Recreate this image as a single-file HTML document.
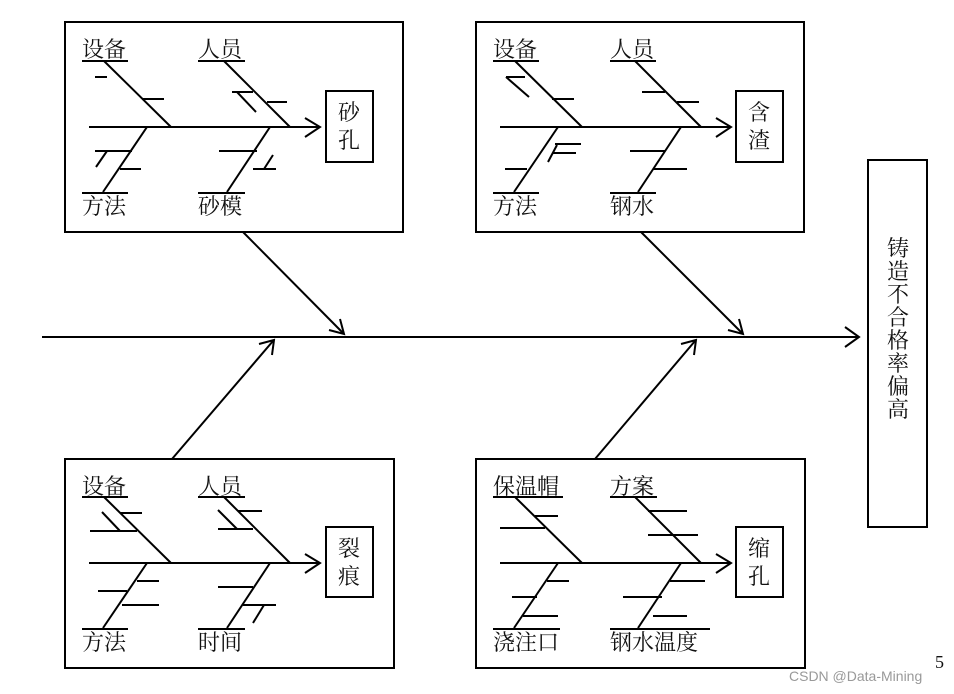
<!DOCTYPE html>
<html><head><meta charset="utf-8"><style>
html,body{margin:0;padding:0;background:#fff;}
svg{display:block;}
text{font-family:"Liberation Serif","Noto Serif CJK SC",serif;font-size:22px;fill:#111;}
</style></head><body>
<svg width="954" height="694" viewBox="0 0 954 694" xmlns="http://www.w3.org/2000/svg">
<defs>
<g id="skel" stroke="#000" stroke-width="2" fill="none">
<line x1="89" y1="127" x2="319" y2="127"/>
<polyline points="305,118 320,127 305,137"/>
<line x1="104" y1="61" x2="171" y2="127"/>
<line x1="224" y1="61" x2="290" y2="127"/>
<line x1="147" y1="127" x2="103" y2="192"/>
<line x1="270" y1="127" x2="227" y2="192"/>
</g>
</defs>
<g stroke="#000" stroke-width="2" fill="none">
<!-- boxes -->
<rect x="65" y="22" width="338" height="210"/>
<rect x="476" y="22" width="328" height="210"/>
<rect x="65" y="459" width="329" height="209"/>
<rect x="476" y="459" width="329" height="209"/>
<rect x="326" y="91" width="47" height="71"/>
<rect x="736" y="91" width="47" height="71"/>
<rect x="326" y="527" width="47" height="70"/>
<rect x="736" y="527" width="47" height="70"/>
<rect x="868" y="160" width="59" height="367"/>
<!-- main spine -->
<line x1="42" y1="337" x2="858" y2="337"/>
<polyline points="845,327 859,337 845,347"/>
<!-- connectors -->
<line x1="243" y1="232" x2="343" y2="333"/>
<polyline points="329,330 344,334 340,319"/>
<line x1="641" y1="232" x2="742" y2="333"/>
<polyline points="728,330 743,334 739,319"/>
<line x1="172" y1="459" x2="273" y2="341"/>
<polyline points="259,344 274,340 272,355"/>
<line x1="595" y1="459" x2="695" y2="341"/>
<polyline points="681,344 696,340 694,355"/>
</g>
<use href="#skel"/>
<use href="#skel" transform="translate(411,0)"/>
<use href="#skel" transform="translate(0,436)"/>
<use href="#skel" transform="translate(411,436)"/>
<g stroke="#000" stroke-width="2" fill="none">
<!-- underlines -->
<line x1="82" y1="61" x2="128" y2="61"/><line x1="198" y1="61" x2="245" y2="61"/>
<line x1="82" y1="193" x2="128" y2="193"/><line x1="198" y1="193" x2="245" y2="193"/>
<line x1="493" y1="61" x2="539" y2="61"/><line x1="610" y1="61" x2="656" y2="61"/>
<line x1="493" y1="193" x2="539" y2="193"/><line x1="610" y1="193" x2="656" y2="193"/>
<line x1="82" y1="497" x2="128" y2="497"/><line x1="198" y1="497" x2="245" y2="497"/>
<line x1="82" y1="629" x2="128" y2="629"/><line x1="198" y1="629" x2="245" y2="629"/>
<line x1="493" y1="497" x2="563" y2="497"/><line x1="610" y1="497" x2="657" y2="497"/>
<line x1="493" y1="629" x2="560" y2="629"/><line x1="610" y1="629" x2="710" y2="629"/>
<!-- box1 ribs -->
<line x1="95" y1="77" x2="107" y2="77"/><line x1="142" y1="99" x2="164" y2="99"/>
<line x1="232" y1="92" x2="253" y2="92"/><line x1="237" y1="92" x2="256" y2="112"/><line x1="267" y1="102" x2="287" y2="102"/>
<line x1="95" y1="151" x2="132" y2="151"/><line x1="96" y1="167" x2="107" y2="151"/><line x1="120" y1="169" x2="141" y2="169"/>
<line x1="219" y1="151" x2="257" y2="151"/><line x1="253" y1="169" x2="276" y2="169"/><line x1="264" y1="169" x2="273" y2="155"/>
<!-- box2 ribs -->
<line x1="506" y1="77" x2="525" y2="77"/><line x1="506" y1="77" x2="529" y2="97"/><line x1="552" y1="99" x2="574" y2="99"/>
<line x1="642" y1="92" x2="665" y2="92"/><line x1="677" y1="102" x2="699" y2="102"/>
<line x1="555" y1="144" x2="581" y2="144"/><line x1="553" y1="153" x2="576" y2="153"/><line x1="548" y1="162" x2="557" y2="145"/><line x1="505" y1="169" x2="527" y2="169"/>
<line x1="630" y1="151" x2="665" y2="151"/><line x1="653" y1="169" x2="687" y2="169"/>
<!-- box3 ribs -->
<line x1="120" y1="513" x2="142" y2="513"/><line x1="90" y1="531" x2="137" y2="531"/><line x1="102" y1="512" x2="120" y2="531"/>
<line x1="238" y1="511" x2="262" y2="511"/><line x1="218" y1="529" x2="253" y2="529"/><line x1="218" y1="510" x2="237" y2="529"/>
<line x1="137" y1="581" x2="159" y2="581"/><line x1="98" y1="591" x2="127" y2="591"/><line x1="122" y1="605" x2="159" y2="605"/>
<line x1="218" y1="587" x2="253" y2="587"/><line x1="243" y1="605" x2="276" y2="605"/><line x1="253" y1="623" x2="264" y2="605"/>
<!-- box4 ribs -->
<line x1="535" y1="516" x2="558" y2="516"/><line x1="500" y1="528" x2="545" y2="528"/>
<line x1="648" y1="511" x2="687" y2="511"/><line x1="648" y1="535" x2="698" y2="535"/>
<line x1="547" y1="581" x2="569" y2="581"/><line x1="512" y1="597" x2="537" y2="597"/><line x1="523" y1="616" x2="558" y2="616"/>
<line x1="670" y1="581" x2="705" y2="581"/><line x1="623" y1="597" x2="662" y2="597"/><line x1="653" y1="616" x2="687" y2="616"/>
</g>
<g>
<text x="82" y="57">设备</text><text x="198" y="57">人员</text>
<text x="82" y="214">方法</text><text x="198" y="214">砂模</text>
<text x="338" y="120">砂</text><text x="338" y="148">孔</text>
<text x="493" y="57">设备</text><text x="610" y="57">人员</text>
<text x="493" y="214">方法</text><text x="610" y="214">钢水</text>
<text x="748" y="120">含</text><text x="748" y="148">渣</text>
<text x="82" y="494">设备</text><text x="198" y="494">人员</text>
<text x="82" y="650">方法</text><text x="198" y="650">时间</text>
<text x="338" y="556">裂</text><text x="338" y="584">痕</text>
<text x="493" y="494">保温帽</text><text x="610" y="494">方案</text>
<text x="493" y="650">浇注口</text><text x="610" y="650">钢水温度</text>
<text x="748" y="556">缩</text><text x="748" y="584">孔</text>
<text x="887" y="256">铸</text><text x="887" y="279">造</text><text x="887" y="302">不</text><text x="887" y="325">合</text>
<text x="887" y="348">格</text><text x="887" y="371">率</text><text x="887" y="394">偏</text><text x="887" y="417">高</text>
<text x="935" y="668" style="font-size:18px">5</text>
<text x="789" y="681" style="font-family:'Liberation Sans',sans-serif;font-size:14px;fill:#999">CSDN @Data-Mining</text>
</g>
</svg>
</body></html>
